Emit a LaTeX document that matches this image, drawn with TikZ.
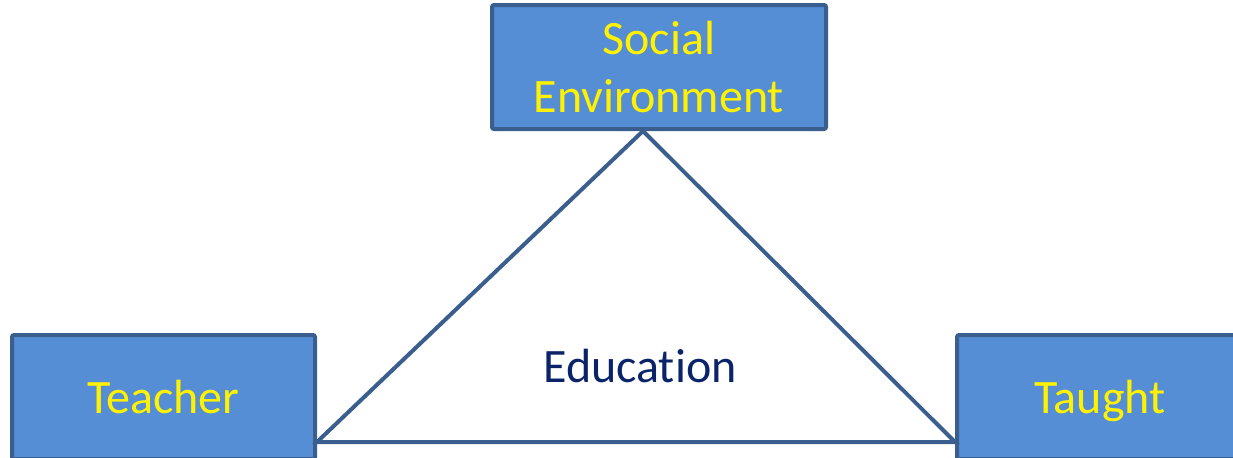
\documentclass[tikz,border=0pt]{standalone}
\usepackage{fontspec}
\setmainfont[Ligatures=NoCommon]{Carlito}
\usetikzlibrary{calc}

\definecolor{boxfill}{HTML}{558ED5}
\definecolor{boxline}{HTML}{3A5F8E}
\definecolor{navy}{HTML}{0B2469}

\tikzset{
  blockbox/.style={draw=boxline, fill=boxfill, line width=2pt, rounded corners=1pt,
    text=yellow, align=center, font=\fontsize{24}{29}\selectfont,
    minimum width=151.5pt, minimum height=62pt, inner sep=0pt},
  oneline/.style={text height=21pt, text depth=5pt},
  sideline/.style={draw=boxline, line width=2pt, line join=miter}
}

\begin{document}
\begin{tikzpicture}[x=0.5pt, y=-0.5pt]
\useasboundingbox (0,0) rectangle (1233,457);
\clip (0,0) rectangle (1233,457);

\node[blockbox, minimum width=167pt] (social) at (659,67) {Social\\Environment};

\node[blockbox, oneline] (teacher) at (163.5,397) {Teacher};
\node[blockbox, oneline, minimum width=143pt] (taught) at (1100,397) {Taught};

% triangle between the three
\coordinate (apex) at ([xshift=-8pt]social.south);
\coordinate (left) at ([yshift=9.5pt]teacher.south east);
\coordinate (right) at ([yshift=9.5pt]taught.south west);
\draw[sideline] (apex) -- (left) -- (right) -- cycle;

\node[text=navy, font=\fontsize{24}{29}\selectfont] (edu) at (640,366) {Education};
\end{tikzpicture}
\end{document}
